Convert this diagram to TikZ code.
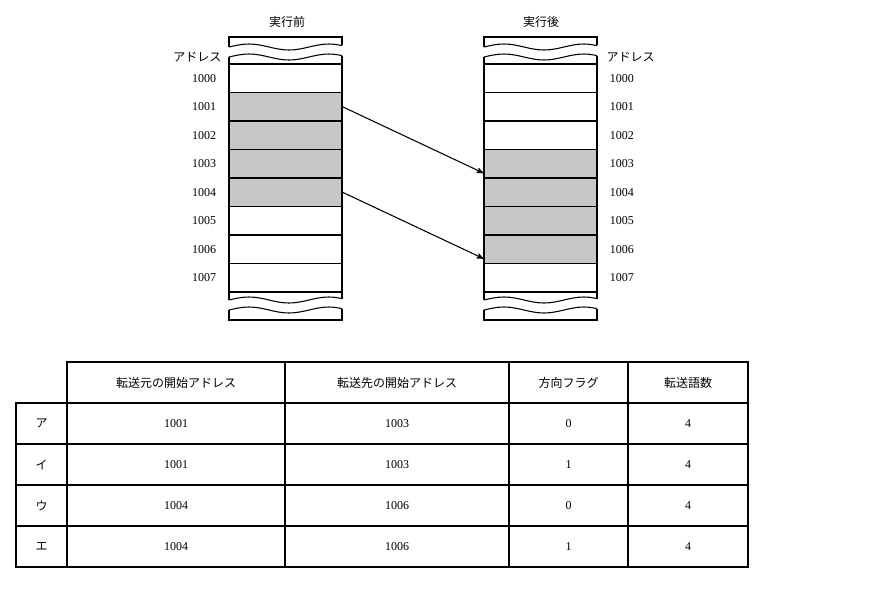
\documentclass[tikz,border=0pt]{standalone}
\usepackage{fontspec}
\setmainfont{Liberation Serif}
\newfontfamily\jp{Noto Sans CJK JP}
\usetikzlibrary{arrows}

\begin{document}
\begin{tikzpicture}[x=0.75pt,y=-0.75pt,>=stealth',
  cell/.style={draw,thick,minimum width=84.75pt,minimum height=21.4pt,inner sep=0pt},
  full/.style={cell,fill=black!22},
  addr/.style={font=\small,inner sep=1pt},
  tab/.style={draw,thick,minimum height=30.75pt,inner sep=0pt,font=\jp\small},
  wave/.style={thick}]
 \useasboundingbox (0,0) rectangle (876,597);

 % memory columns
 \foreach \side/\cx/\xa/\xb in {L/285.5/229/342,R/540.5/484/597}{
   \foreach \i in {0,...,7}{
     \pgfmathsetmacro{\cy}{64+28.5*(\i+0.5)}
     \node[cell] (\side\i) at (\cx,\cy) {};
   }
   % breaks
   \draw[wave] (\xa,47) -- (\xa,37) -- (\xb,37) -- (\xb,45.4);
   \foreach \wy in {47,57,300,310}
     \draw[wave] (\xa,\wy) sin ++(20,-3) cos ++(20,3) sin ++(20,3) cos ++(20,-3) sin ++(20,-3) cos ++(13,1.6);
   \draw[wave] (\xa,57) -- (\xa,64);
   \draw[wave] (\xb,55.6) -- (\xb,64);
   \draw[wave] (\xa,292) -- (\xa,300);
   \draw[wave] (\xb,292) -- (\xb,298.6);
   \draw[wave] (\xa,310) -- (\xa,320) -- (\xb,320) -- (\xb,308.6);
 }
 \foreach \i in {1,...,4} \node[full] at (L\i) {};
 \foreach \i in {3,...,6} \node[full] at (R\i) {};

 \foreach \i in {0,...,7}{
   \pgfmathtruncatemacro{\a}{1000+\i}
   \node[addr,anchor=east] (aL\i) at ([xshift=-8pt]L\i.west) {\a};
   \node[addr,anchor=west] (aR\i) at ([xshift=8pt]R\i.east) {\a};
 }
 \node[font=\jp\small] (before) at (287,22) {実行前};
 \node[font=\jp\small] (after) at (541,22) {実行後};
 \node[font=\jp\small,anchor=east] (headL) at (226,57) {アドレス};
 \node[font=\jp\small,anchor=west] (headR) at (602,57) {アドレス};

 \draw[->,thick] (L1.east) -- ([yshift=-7pt]R3.west);
 \draw[->,thick] (L4.east) -- ([yshift=-7pt]R6.west);

 % table
 \node[tab,minimum width=163.5pt] (h1) at (176,382.5) {転送元の開始アドレス};
 \node[tab,minimum width=168pt] (h2) at (397,382.5) {転送先の開始アドレス};
 \node[tab,minimum width=89.25pt] (h3) at (568.5,382.5) {方向フラグ};
 \node[tab,minimum width=90pt] (h4) at (688,382.5) {転送語数};
 \foreach \k/\lab/\src/\dst/\dir [count=\r] in {a/ア/1001/1003/0,i/イ/1001/1003/1,u/ウ/1004/1006/0,e/エ/1004/1006/1}{
   \pgfmathsetmacro{\ry}{382.5+41*\r}
   \node[tab,minimum width=38.25pt] (\k0) at (41.5,\ry) {\lab};
   \node[tab,minimum width=163.5pt,font=\small] (\k1) at (176,\ry) {\src};
   \node[tab,minimum width=168pt,font=\small] (\k2) at (397,\ry) {\dst};
   \node[tab,minimum width=89.25pt,font=\small] (\k3) at (568.5,\ry) {\dir};
   \node[tab,minimum width=90pt,font=\small] (\k4) at (688,\ry) {4};
 }
\end{tikzpicture}
\end{document}
